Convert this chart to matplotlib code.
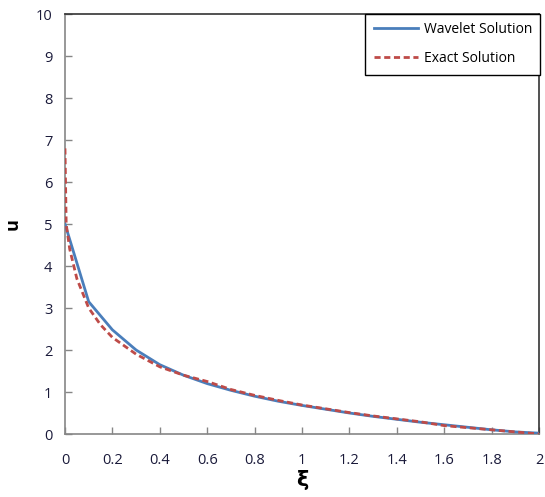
import matplotlib
matplotlib.use('Agg')
import matplotlib.pyplot as plt

# values
xi_wavelet = [0.0, 0.1, 0.2, 0.3, 0.4, 0.5, 0.6, 0.7, 0.8, 0.9, 1.0,
              1.1, 1.2, 1.3, 1.4, 1.5, 1.6, 1.7, 1.8, 1.9, 2.0]
u_wavelet = [5.0, 3.15, 2.48, 2.0, 1.65, 1.4, 1.2, 1.04, 0.9, 0.78, 0.68,
             0.59, 0.5, 0.42, 0.35, 0.28, 0.22, 0.16, 0.1, 0.05, 0.02]

xi_exact = [0.0, 0.005, 0.02, 0.05, 0.1, 0.15, 0.2, 0.3, 0.4, 0.5, 0.6, 0.7,
            0.8, 0.9, 1.0, 1.1, 1.2, 1.3, 1.4, 1.5, 1.6, 1.7, 1.8, 1.9, 2.0]
u_exact = [6.8, 5.0, 4.4, 3.7, 3.0, 2.6, 2.3, 1.9, 1.6, 1.4, 1.25, 1.06,
           0.92, 0.8, 0.69, 0.6, 0.51, 0.43, 0.36, 0.29, 0.2, 0.15, 0.1, 0.05, 0.0]

xticks = [0, 0.2, 0.4, 0.6, 0.8, 1, 1.2, 1.4, 1.6, 1.8, 2]
xtick_labels = ['0', '0.2', '0.4', '0.6', '0.8', '1', '1.2', '1.4', '1.6', '1.8', '2']
yticks = list(range(0, 11))

plt.rcParams['font.family'] = ['Open Sans', 'DejaVu Sans']

fig = plt.figure(figsize=(5.45, 4.97), dpi=100)
ax = fig.add_axes([65 / 545, 63 / 497, 474 / 545, 420 / 497])

ax.plot(xi_wavelet, u_wavelet, color='#4a7ebb', lw=2.0, label='Wavelet Solution', zorder=3)
ax.plot(xi_exact, u_exact, color='#be4b48', lw=2.0, ls=(0, (2.2, 1.3)),
        label='Exact Solution', zorder=4)

ax.set_xlim(0, 2)
ax.set_ylim(0, 10)
ax.set_xticks(xticks)
ax.set_xticklabels(xtick_labels)
ax.set_yticks(yticks)

tick_color = '#868686'
ax.tick_params(direction='in', length=5, width=1, color=tick_color,
               labelsize=10.5, labelcolor='#1a1a3a')
ax.tick_params(axis='x', pad=14)
ax.tick_params(axis='y', pad=9)

for side in ['left', 'bottom']:
    ax.spines[side].set_color(tick_color)
    ax.spines[side].set_linewidth(1.2)
for side in ['top', 'right']:
    ax.spines[side].set_color('#333333')
    ax.spines[side].set_linewidth(1.2)

ax.set_xlabel('ξ', fontsize=15, fontweight='bold', family=['DejaVu Sans'], labelpad=1)
ax.set_ylabel('u', fontsize=13, fontweight='bold', labelpad=10)

leg = ax.legend(loc='upper right', bbox_to_anchor=(1.003, 1.0), borderaxespad=0,
                fancybox=False, edgecolor='black', framealpha=1, fontsize=10,
                handlelength=3.2, labelspacing=1.0, borderpad=0.6, handletextpad=0.4)
leg.get_frame().set_linewidth(1.0)

fig.savefig('out.png', dpi=100)
